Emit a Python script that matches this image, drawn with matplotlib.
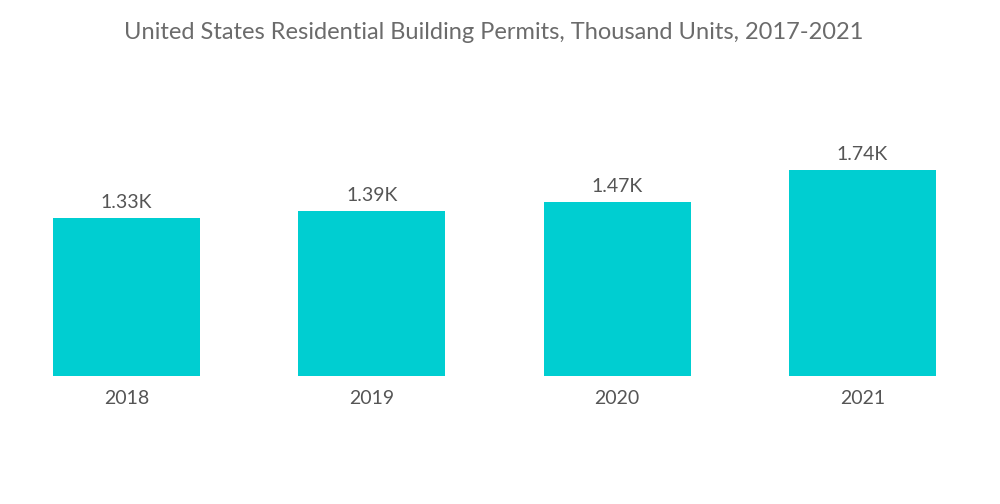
import matplotlib
matplotlib.use("Agg")
import matplotlib.pyplot as plt

years = ["2018", "2019", "2020", "2021"]
permits = [1.33, 1.39, 1.47, 1.74]  # thousand units
labels = ["1.33K", "1.39K", "1.47K", "1.74K"]

plt.rcParams['font.family'] = ['Lato', 'DejaVu Sans']

fig = plt.figure(figsize=(10, 5.04), dpi=100)
ax = fig.add_axes([0.004, 0.254, 0.981, 0.47])

bars = ax.bar(range(len(years)), permits, width=0.6, color="#00CED1")
for b, lab in zip(bars, labels):
    ax.text(b.get_x() + b.get_width() / 2, b.get_height() + 0.06, lab,
            ha="center", va="bottom", fontsize=14, color="#555555")

ax.set_xlim(-0.5, 3.5)
ax.set_ylim(0, 2.0)
ax.set_xticks(range(len(years)))
ax.set_xticklabels(years, fontsize=14, color="#555555")
ax.tick_params(axis="x", length=0, pad=10)
ax.set_yticks([])
for s in ax.spines.values():
    s.set_visible(False)

fig.text(0.494, 0.936, "United States Residential Building Permits, Thousand Units, 2017-2021",
         ha="center", va="center", fontsize=17, color="#6b6b6b")

fig.savefig("out.png", dpi=100)
